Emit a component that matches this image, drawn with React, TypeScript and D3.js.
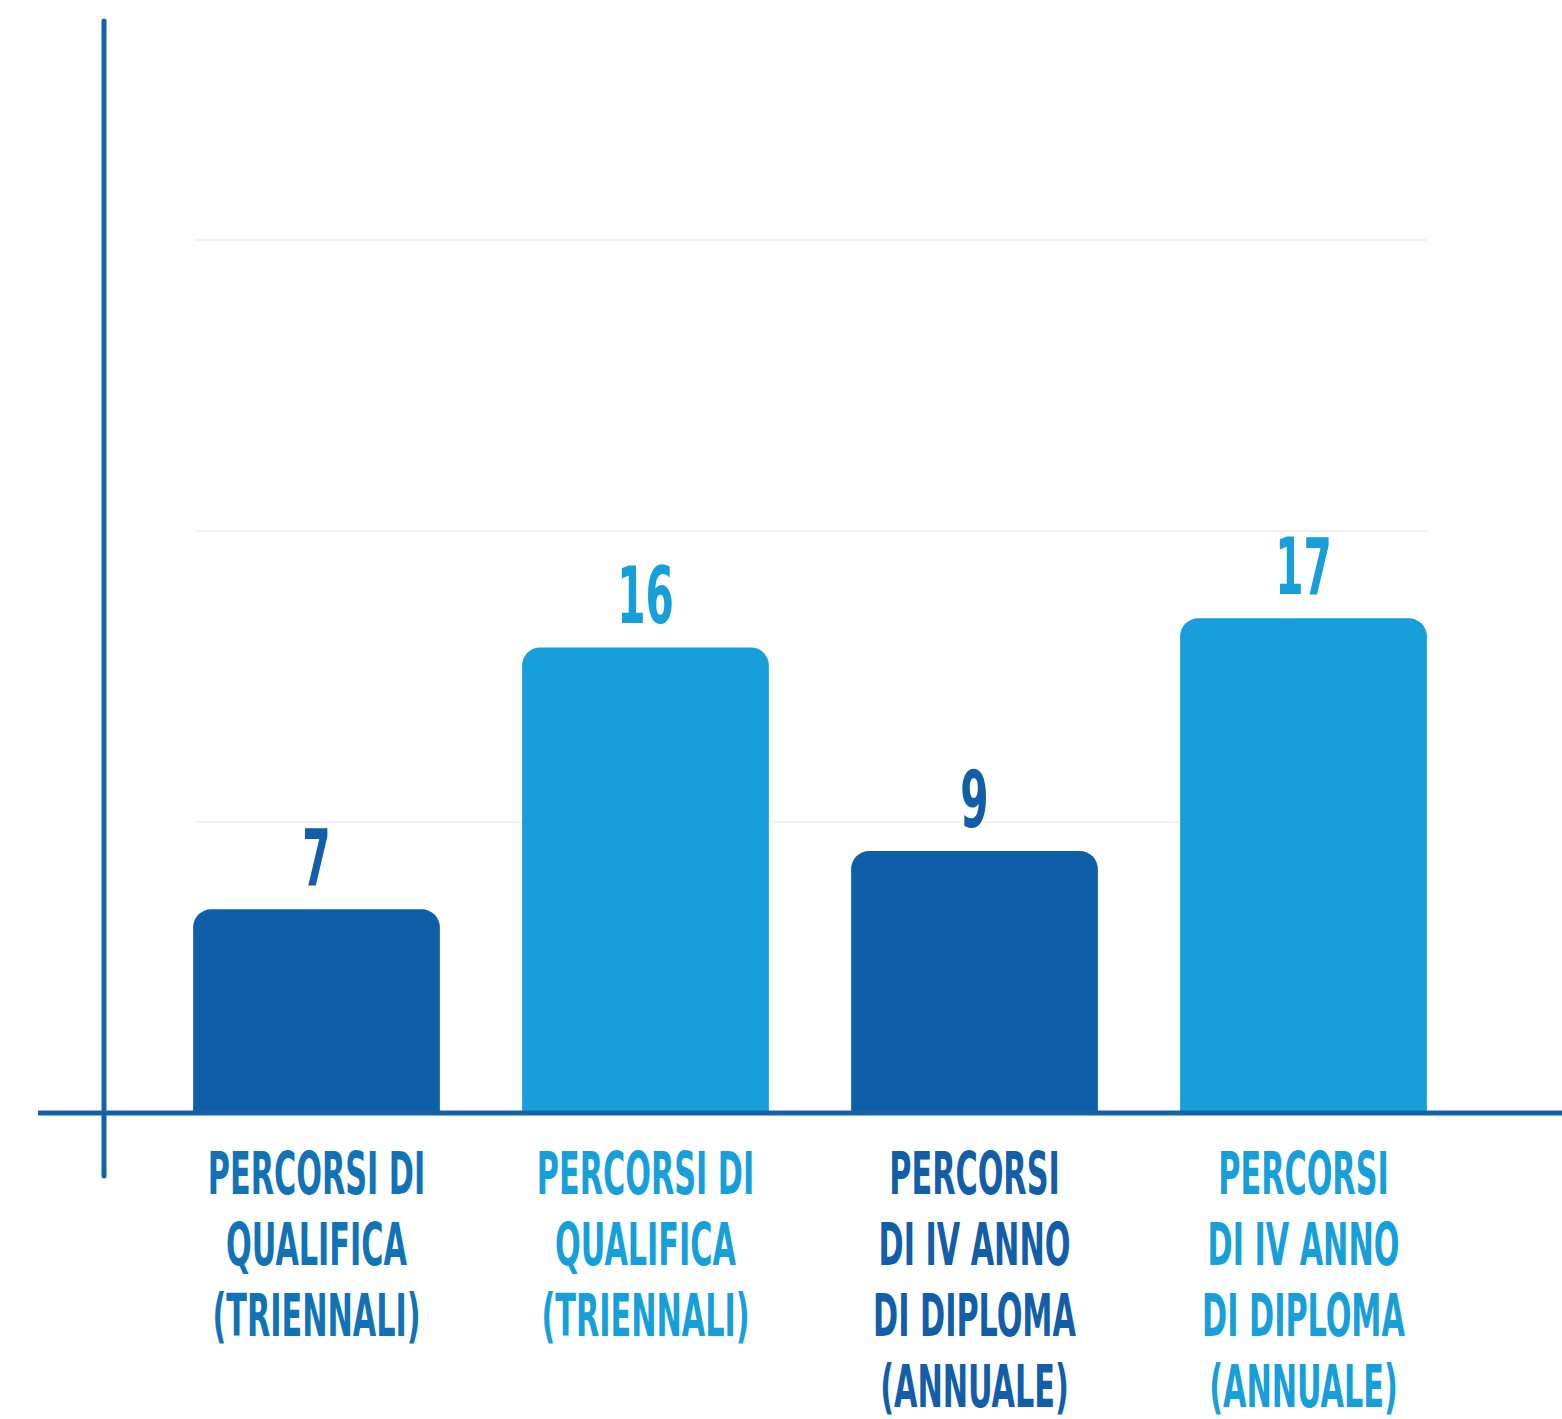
import React from 'react';
import * as d3 from 'd3';

const categories = ['qualifica-1', 'qualifica-2', 'diploma-1', 'diploma-2'];
const values = [7, 16, 9, 17];
const labelLines = [
  ['PERCORSI DI', 'QUALIFICA', '(TRIENNALI)'],
  ['PERCORSI DI', 'QUALIFICA', '(TRIENNALI)'],
  ['PERCORSI', 'DI IV ANNO', 'DI DIPLOMA', '(ANNUALE)'],
  ['PERCORSI', 'DI IV ANNO', 'DI DIPLOMA', '(ANNUALE)'],
];
const gridTicks = [10, 20, 30];

const barColors = ['#0f5fa8', '#179fd9', '#0f5fa8', '#179fd9'];
const labelColors = ['#1173b6', '#179fd9', '#135ea8', '#179fd9'];
const valueColors = ['#135ea8', '#179fd9', '#135ea8', '#179fd9'];

const W = 1562;
const H = 1419;
const baseY = 1113;
const font = "'DejaVu Sans Condensed', 'Liberation Sans Narrow', sans-serif";

// bar with rounded top corners only
function topRoundedRect(x: number, y: number, w: number, h: number, r: number) {
  const p = d3.path();
  p.moveTo(x, y + h);
  p.lineTo(x, y + r);
  p.arcTo(x, y, x + r, y, r);
  p.lineTo(x + w - r, y);
  p.arcTo(x + w, y, x + w, y + r, r);
  p.lineTo(x + w, y + h);
  p.closePath();
  return p.toString();
}

export default function App() {
  const x = d3.scaleBand<string>()
    .domain(categories)
    .range([152, 1468])
    .paddingInner(0.25)
    .paddingOuter(0.125);

  const y = d3.scaleLinear().domain([0, 30]).range([baseY, 240]);

  return (
    <svg width={W} height={H} style={{ position: 'absolute', left: 0, top: 0, display: 'block', background: '#fff' }}>
      {/* faint gridlines */}
      {gridTicks.map(t => (
        <line key={t} x1={195} x2={1427} y1={y(t)} y2={y(t)} stroke="#f3f3f3" strokeWidth={2} />
      ))}

      {/* bars */}
      {categories.map((c, i) => (
        <path
          key={c}
          d={topRoundedRect(x(c)!, y(values[i]), x.bandwidth(), baseY - y(values[i]), 18)}
          fill={barColors[i]}
        />
      ))}

      {/* value labels */}
      {categories.map((c, i) => (
        <text
          key={c}
          transform={`translate(${x(c)! + x.bandwidth() / 2},${y(values[i]) - 24}) scale(0.58,1)`}
          textAnchor="middle"
          fontFamily={font}
          fontWeight="bold"
          fontSize={78}
          fill={valueColors[i]}
        >
          {values[i]}
        </text>
      ))}

      {/* axes */}
      <line x1={38} x2={W} y1={baseY} y2={baseY} stroke="#1462a8" strokeWidth={5} />
      <line x1={104} x2={104} y1={21} y2={1176} stroke="#1462a8" strokeWidth={5} strokeLinecap="round" />

      {/* category labels */}
      {categories.map((c, i) => (
        <g key={c}>
          {labelLines[i].map((line, j) => (
            <text
              key={j}
              transform={`translate(${x(c)! + x.bandwidth() / 2},${1194 + j * 71}) scale(0.58,1)`}
              textAnchor="middle"
              fontFamily={font}
              fontWeight="bold"
              fontSize={58}
              fill={labelColors[i]}
            >
              {line}
            </text>
          ))}
        </g>
      ))}
    </svg>
  );
}
